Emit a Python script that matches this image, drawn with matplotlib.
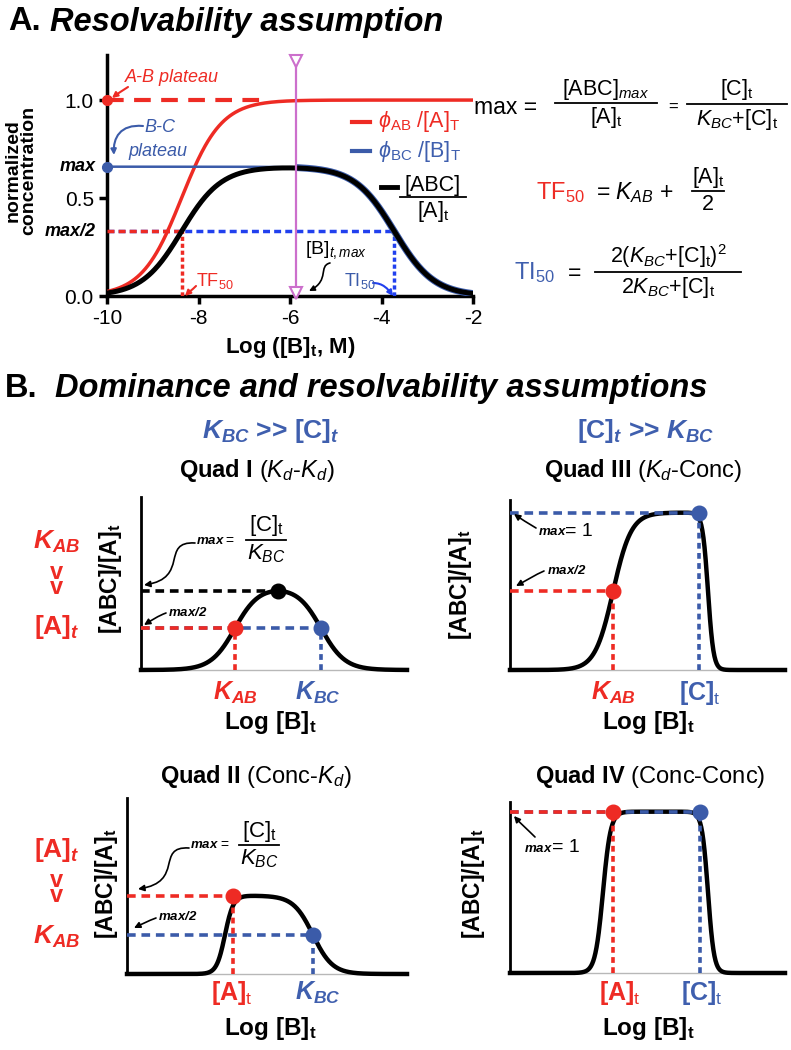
import numpy as np
import matplotlib.pyplot as plt
from matplotlib.lines import Line2D
from matplotlib.patches import FancyArrowPatch
from matplotlib.path import Path

plt.rcParams['font.family'] = ['Liberation Sans', 'DejaVu Sans']
plt.rcParams['mathtext.fontset'] = 'custom'
plt.rcParams['mathtext.rm'] = 'Liberation Sans'
plt.rcParams['mathtext.it'] = 'Liberation Sans:italic'
plt.rcParams['mathtext.bf'] = 'Liberation Sans:bold'
plt.rcParams['mathtext.bfit'] = 'Liberation Sans:italic:bold'
plt.rcParams['mathtext.fallback'] = 'stixsans'
plt.rcParams['axes.unicode_minus'] = False

RED = '#ee2b24'
BLUE = '#3b5ba9'
BLUE_DASH = '#2140ee'
BLUE_TXT = '#3f5fae'
MAGENTA = '#cc6fcc'

# ---- panel A: model curves (log10 of [B]t, M)
log_bt = np.linspace(-10, -2, 400)
tf50 = -8.37
ti50 = -3.72
abc_max = 0.66
bt_max = -5.87
ab_curve = 1 / (1 + 10 ** (tf50 - log_bt))
bc_curve = abc_max / (1 + 10 ** (log_bt - ti50))
abc_curve = ab_curve * bc_curve
xticks_a = [-10, -8, -6, -4, -2]
yticks_a = [0.0, 0.5, 1.0]

# ---- panel B: schematic quads, [plateau, rise mid, rise width, fall mid, fall width]
quad_x = np.linspace(0, 10, 500)
q1_par = [0.53, 3.53, 0.45, 6.77, 0.45]
q2_par = [0.49, 3.50, 0.15, 6.64, 0.35]
q3_par = [1.00, 3.75, 0.33, 7.20, 0.10]
q4_par = [1.00, 3.38, 0.14, 7.20, 0.11]
q1_dots = {'red': (3.53, 0.265), 'peak': (5.15, 0.50), 'blue': (6.77, 0.265)}
q2_dots = {'red': (3.79, 0.49), 'blue': (6.64, 0.245)}
q3_dots = {'red': (3.75, 0.50), 'blue': (6.87, 1.00)}
q4_dots = {'red': (3.75, 1.00), 'blue': (6.90, 1.00)}

W, H = 791, 1050
fig = plt.figure(figsize=(W / 100, H / 100), dpi=100)


def P(px, py):
    return px / W, 1 - py / H


def ftext(px, py, s, **kw):
    x, y = P(px, py)
    return fig.text(x, y, s, **kw)


def hline(px0, px1, py, color='k', lw=1.2):
    x0, y = P(px0, py)
    x1, _ = P(px1, py)
    fig.add_artist(Line2D([x0, x1], [y, y], color=color, lw=lw, transform=fig.transFigure))


def frac(xc, ybar, w, num, den, size=14, color='k'):
    ftext(xc, ybar - 1.5, num, ha='center', va='bottom', fontsize=size, color=color)
    ftext(xc, ybar + 2.5, den, ha='center', va='top', fontsize=size, color=color)
    hline(xc - w / 2, xc + w / 2, ybar, color=color, lw=1.3)


def curve_arrow(pts, color='k', lw=1.2, ms=9):
    verts = [P(*p) for p in pts]
    codes = [Path.MOVETO] + [Path.CURVE4] * (len(pts) - 1)
    fig.add_artist(FancyArrowPatch(path=Path(verts, codes), arrowstyle='-|>',
                                   mutation_scale=ms, color=color, lw=lw,
                                   transform=fig.transFigure))


# ================= Panel A =================
ftext(8, 22, 'A.', fontsize=23.5, fontweight='bold', va='center')
ftext(50, 22, 'Resolvability assumption', fontsize=23.5, fontweight='bold',
      fontstyle='italic', va='center')

axA = fig.add_axes([107 / W, 1 - 296 / H, 366 / W, 241 / H])
axA.set_xlim(-10, -2)
axA.set_ylim(0, 1.23)
for s in ['top', 'right']:
    axA.spines[s].set_visible(False)
for s in ['left', 'bottom']:
    axA.spines[s].set_linewidth(2.5)
axA.set_xticks(xticks_a)
axA.set_yticks(yticks_a)
axA.set_yticklabels(['0.0', '0.5', '1.0'])
axA.tick_params(direction='out', length=6, width=2.5, labelsize=15)

axA.plot([-10, -6.6], [1, 1], color=RED, lw=3, dashes=(4, 2.5), zorder=2)
axA.plot([-10, ti50], [abc_max / 2] * 2, color=BLUE_DASH, lw=2.5, dashes=(2, 1.2), zorder=2)
axA.plot([-10, tf50], [abc_max / 2] * 2, color=RED, lw=2.5, dashes=(2, 1.2), zorder=3)
axA.plot([tf50, tf50], [0, abc_max / 2], color=RED, lw=2.5, dashes=(1.2, 0.8), zorder=3)
axA.plot([ti50, ti50], [0, abc_max / 2], color=BLUE_DASH, lw=2.5, dashes=(1.2, 0.8), zorder=3)

axA.plot(log_bt, ab_curve, color=RED, lw=2.5, zorder=4)
axA.plot(log_bt, bc_curve, color=BLUE, lw=1.8, zorder=4)
sel = log_bt > -5.8
axA.plot(log_bt[sel], bc_curve[sel], color=BLUE, lw=5.0, zorder=4)
axA.plot(log_bt, abc_curve, color='k', lw=3.6, zorder=5)

axA.plot([bt_max, bt_max], [0, 1.22], color=MAGENTA, lw=1.6, zorder=6, clip_on=False)
axA.plot([bt_max], [1.2], marker='v', ms=8, mfc='white', mec=MAGENTA, mew=1.5, zorder=7, clip_on=False)
axA.plot([bt_max], [0.015], marker='v', ms=8, mfc='white', mec=MAGENTA, mew=1.5, zorder=7, clip_on=False)

axA.plot([-10], [1.0], 'o', color=RED, ms=7, zorder=8, clip_on=False)
axA.plot([-10], [abc_max], 'o', color=BLUE, ms=7, zorder=8, clip_on=False)

axA.text(-10.25, abc_max, 'max', ha='right', va='center', fontsize=13,
         fontweight='bold', fontstyle='italic')
axA.text(-10.25, abc_max / 2, 'max/2', ha='right', va='center', fontsize=13,
         fontweight='bold', fontstyle='italic')
axA.set_ylabel('normalized\nconcentration', fontsize=14, fontweight='bold', linespacing=0.9)
axA.yaxis.set_label_coords(-0.19, 0.52)
axA.set_xlabel(r'Log ([B]$_\mathbf{t}$, M)', fontsize=16, fontweight='bold', labelpad=5)

ftext(125, 78, 'A-B plateau', color=RED, fontsize=13, fontstyle='italic', va='center')
curve_arrow([(128, 87), (122, 91), (117, 94), (112, 98)], color=RED, lw=1.5, ms=8)
ftext(160, 127, 'B-C', color=BLUE, fontsize=13, fontstyle='italic', va='center', ha='center')
ftext(158, 151, 'plateau', color=BLUE, fontsize=13, fontstyle='italic', va='center', ha='center')
curve_arrow([(143, 126), (120, 124), (113, 138), (114, 155)], color=BLUE, lw=1.5, ms=8)
ftext(196, 281, r'TF$_{50}$', color=RED, fontsize=13, va='center')
curve_arrow([(196, 286), (192, 290), (189, 292), (185, 296)], color=RED, lw=1.5, ms=8)
ftext(305, 250, r'[B]$_{t,max}$', fontsize=14, va='center')
curve_arrow([(330, 263), (318, 266), (330, 280), (309, 291)], color='k', lw=1.2, ms=8)
ftext(344, 281, r'TI$_{50}$', color=BLUE, fontsize=13, va='center')
curve_arrow([(373, 283), (383, 283), (388, 289), (393, 296)], color=BLUE_DASH, lw=1.5, ms=8)

# legend
for py, col in [(122, RED), (151, BLUE)]:
    hline(352, 370, py, color=col, lw=3)
hline(381, 397, 187, color='k', lw=3.5)
ftext(378, 122, r'$\phi$$_{\mathrm{AB}}$ /[A]$_\mathrm{T}$', color=RED, fontsize=15.5, va='center')
ftext(378, 151, r'$\phi$$_{\mathrm{BC}}$ /[B]$_\mathrm{T}$', color=BLUE_TXT, fontsize=15.5, va='center')
frac(433, 197, 66, '[ABC]', r'[A]$_\mathrm{t}$', size=15.5)

# formulas
ftext(474, 108, 'max =', fontsize=16.5, va='center')
frac(606, 103, 102, r'[ABC]$_{max}$', r'[A]$_\mathrm{t}$', size=15.5)
ftext(673, 107, '=', fontsize=12, va='center', ha='center')
frac(737, 104, 100, r'[C]$_\mathrm{t}$', r'$K_{BC}$+[C]$_\mathrm{t}$', size=15.5)

ftext(536, 193, r'TF$_{50}$', color=RED, fontsize=17, va='center')
ftext(596, 193, r'= $K_{AB}$ + ', fontsize=16.5, va='center')
frac(708, 191, 32, r'[A]$_\mathrm{t}$', '2', size=15.5)

ftext(514, 273, r'TI$_{50}$', color=BLUE_TXT, fontsize=17, va='center')
ftext(575, 273, '=', fontsize=16.5, va='center', ha='center')
frac(668, 272, 146, r'2($K_{BC}$+[C]$_\mathrm{t}$)$^2$', r'2$K_{BC}$+[C]$_\mathrm{t}$', size=15.5)

# ================= Panel B =================
ftext(5, 389, 'B.', fontsize=23.5, fontweight='bold', va='center')
ftext(55, 389, 'Dominance and resolvability assumptions', fontsize=23.5,
      fontweight='bold', fontstyle='italic', va='center')
ftext(271, 431, r'$\mathbfit{K}_{\mathbfit{BC}}$ >> $\mathbf{[C]}_{\mathbfit{t}}$',
      color=BLUE_TXT, fontsize=19, fontweight='bold', ha='center', va='center')
ftext(646, 431, r'$\mathbf{[C]}_{\mathbfit{t}}$ >> $\mathbfit{K}_{\mathbfit{BC}}$',
      color=BLUE_TXT, fontsize=19, fontweight='bold', ha='center', va='center')

ftext(257, 470, r'$\mathbf{Quad\ I}$ ($K_d$-$K_d$)', fontsize=17, ha='center', va='center')
ftext(643, 470, r'$\mathbf{Quad\ III}$ ($K_d$-Conc)', fontsize=17, ha='center', va='center')
ftext(256, 777, r'$\mathbf{Quad\ II}$ (Conc-$K_d$)', fontsize=17, ha='center', va='center')
ftext(650, 777, r'$\mathbf{Quad\ IV}$ (Conc-Conc)', fontsize=17, ha='center', va='center')

# row labels
for py, s in [(542, r'$\mathbfit{K}_{\mathbfit{AB}}$'), (627, r'$\mathbf{[A]}_{\mathbfit{t}}$'),
              (850, r'$\mathbf{[A]}_{\mathbfit{t}}$'), (937, r'$\mathbfit{K}_{\mathbfit{AB}}$')]:
    ftext(57, py, s, color=RED, fontsize=19, ha='center', va='center')
for py in [580, 888]:
    ftext(56, py, 'v\nv', color=RED, fontsize=17, fontweight='bold', ha='center',
          va='center', linespacing=0.55)


def logistic_bump(par):
    top, a, sa, b, sb = par
    return top / (1 + np.exp(-(quad_x - a) / sa)) / (1 + np.exp((quad_x - b) / sb))


def quad_axes(box, par, ytop):
    l, t, r, b = box
    ax = fig.add_axes([l / W, 1 - b / H, (r - l) / W, (b - t) / H])
    ax.set_xlim(0, 10)
    ax.set_ylim(0, ytop)
    ax.set_xticks([])
    ax.set_yticks([])
    ax.spines['top'].set_visible(False)
    ax.spines['right'].set_visible(False)
    ax.spines['left'].set_linewidth(2)
    ax.spines['bottom'].set_linewidth(1)
    ax.spines['bottom'].set_color('#b8b8b8')
    ax.plot(quad_x, logistic_bump(par), color='k', lw=3.2, zorder=3, clip_on=False)
    return ax


def dash_h(ax, x1, y, color):
    ax.plot([0, x1], [y, y], color=color, lw=2.6, dashes=(2.4, 1.6), dash_capstyle='butt',
            zorder=4, clip_on=False)


def dash_v(ax, x, y, color):
    ax.plot([x, x], [0, y], color=color, lw=2.6, dashes=(1.6, 1.2), zorder=4)


def dot(ax, xy, color):
    ax.plot([xy[0]], [xy[1]], 'o', color=color, ms=10.5, zorder=6, clip_on=False)


# Quad I
ax1 = quad_axes((141, 497, 407, 670), q1_par, 1.1)
dash_h(ax1, q1_dots['peak'][0], q1_dots['peak'][1], 'k')
dash_h(ax1, q1_dots['blue'][0], q1_dots['blue'][1], BLUE)
dash_h(ax1, q1_dots['red'][0], q1_dots['red'][1], RED)
dash_v(ax1, q1_dots['red'][0], q1_dots['red'][1], RED)
dash_v(ax1, q1_dots['blue'][0], q1_dots['blue'][1], BLUE)
dot(ax1, q1_dots['peak'], 'k')
dot(ax1, q1_dots['red'], RED)
dot(ax1, q1_dots['blue'], BLUE)

# Quad III
ax3 = quad_axes((510, 500, 785, 670), q3_par, 1.08)
dash_h(ax3, q3_dots['blue'][0], q3_dots['blue'][1], BLUE)
dash_h(ax3, q3_dots['red'][0], q3_dots['red'][1], RED)
dash_v(ax3, q3_dots['red'][0], q3_dots['red'][1], RED)
dash_v(ax3, q3_dots['blue'][0], q3_dots['blue'][1], BLUE)
dot(ax3, q3_dots['red'], RED)
dot(ax3, q3_dots['blue'], BLUE)

# Quad II
ax2 = quad_axes((127, 798, 407, 974), q2_par, 1.1)
dash_h(ax2, q2_dots['red'][0], q2_dots['red'][1], RED)
dash_h(ax2, q2_dots['blue'][0], q2_dots['blue'][1], BLUE)
dash_v(ax2, q2_dots['red'][0], q2_dots['red'][1], RED)
dash_v(ax2, q2_dots['blue'][0], q2_dots['blue'][1], BLUE)
dot(ax2, q2_dots['red'], RED)
dot(ax2, q2_dots['blue'], BLUE)

# Quad IV
ax4 = quad_axes((510, 802, 785, 973), q4_par, 1.06)
dash_h(ax4, q4_dots['blue'][0], q4_dots['blue'][1], BLUE)
dash_h(ax4, q4_dots['red'][0], q4_dots['red'][1], RED)
dash_v(ax4, q4_dots['red'][0], q4_dots['red'][1], RED)
dash_v(ax4, q4_dots['blue'][0], q4_dots['blue'][1], BLUE)
dot(ax4, q4_dots['red'], RED)
dot(ax4, q4_dots['blue'], BLUE)

# y labels
for px, py in [(110, 579), (107, 884), (461, 585), (474, 884)]:
    ftext(px, py, r'[ABC]/[A]$_\mathbf{t}$', fontsize=16.5, fontweight='bold', rotation=90,
          ha='center', va='center')

# x labels
for py_k, items in [
        (693, [(235, r'$\mathbfit{K}_{\mathbfit{AB}}$', RED), (318, r'$\mathbfit{K}_{\mathbfit{BC}}$', BLUE_TXT)]),
        (693, [(613, r'$\mathbfit{K}_{\mathbfit{AB}}$', RED), (700, r'$\mathbf{[C]}_\mathrm{t}$', BLUE_TXT)]),
        (993, [(232, r'$\mathbf{[A]}_\mathrm{t}$', RED), (318, r'$\mathbfit{K}_{\mathbfit{BC}}$', BLUE_TXT)]),
        (993, [(620, r'$\mathbf{[A]}_\mathrm{t}$', RED), (702, r'$\mathbf{[C]}_\mathrm{t}$', BLUE_TXT)])]:
    for px, s, col in items:
        ftext(px, py_k, s, color=col, fontsize=18, ha='center', va='center')
for px, py in [(270, 723), (648, 723), (270, 1028), (648, 1028)]:
    ftext(px, py, r'Log [B]$_\mathbf{t}$', fontsize=17.5, fontweight='bold', ha='center', va='center')

# Quad I notes
ftext(196, 541, r'$\mathbfit{max}$', fontsize=9.5, va='center')
ftext(225, 541, '=', fontsize=10, va='center')
frac(266, 540, 40, r'[C]$_\mathrm{t}$', r'$K_{BC}$', size=16)
curve_arrow([(195, 543), (160, 541), (190, 578), (144, 585)], lw=1.2)
ftext(168, 612, r'$\mathbfit{max/2}$', fontsize=9.5, va='center')
curve_arrow([(166, 613), (158, 616), (152, 620), (144, 625)], lw=1.2)

# Quad II notes
ftext(190, 845, r'$\mathbfit{max}$', fontsize=9.5, va='center')
ftext(220, 845, '=', fontsize=10, va='center')
frac(259, 845, 40, r'[C]$_\mathrm{t}$', r'$K_{BC}$', size=16)
curve_arrow([(189, 848), (155, 846), (185, 882), (138, 889)], lw=1.2)
ftext(158, 917, r'$\mathbfit{max/2}$', fontsize=9.5, va='center')
curve_arrow([(156, 918), (148, 921), (142, 924), (134, 928)], lw=1.2)

# Quad III notes
ftext(538, 532, r'$\mathbfit{max}$', fontsize=9.5, va='center')
ftext(565, 531, '= 1', fontsize=14, va='center')
curve_arrow([(536, 528), (528, 523), (521, 519), (514, 514)], lw=1.2)
ftext(547, 570, r'$\mathbfit{max/2}$', fontsize=9.5, va='center')
curve_arrow([(544, 571), (535, 575), (527, 580), (516, 586)], lw=1.2)

# Quad IV notes
ftext(524, 849, r'$\mathbfit{max}$', fontsize=9.5, va='center')
ftext(552, 847, '= 1', fontsize=14, va='center')
curve_arrow([(535, 837), (528, 830), (521, 824), (514, 816)], lw=1.2)

fig.savefig('out.png', dpi=100)
